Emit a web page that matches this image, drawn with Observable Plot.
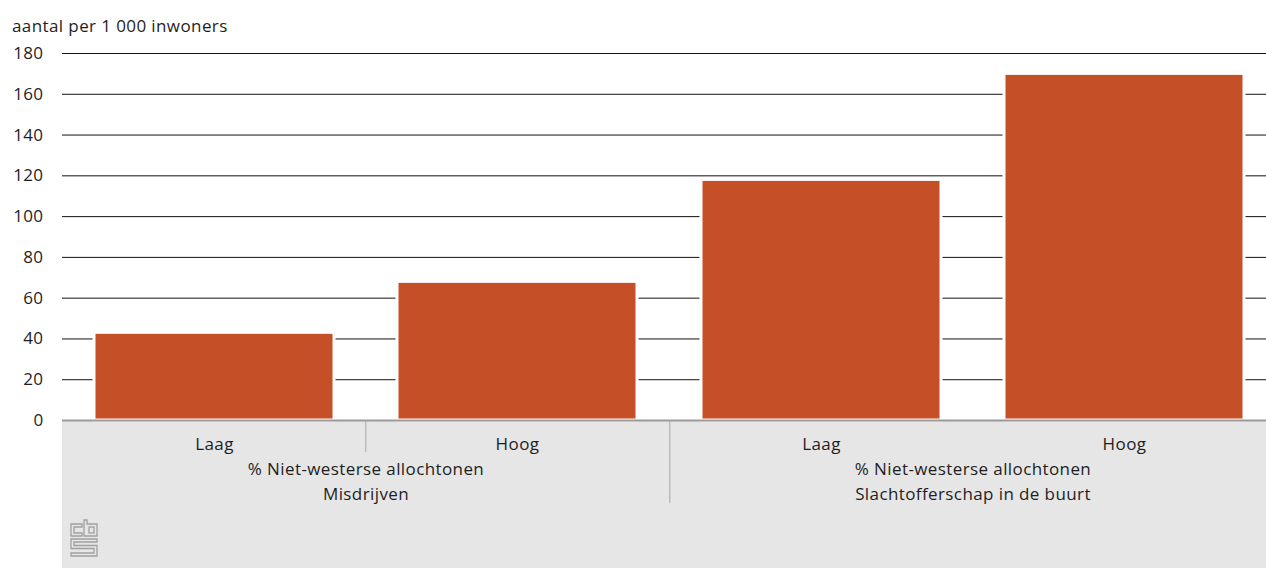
<!DOCTYPE html>
<html>
<head>
<meta charset="utf-8">
<script src="https://cdn.jsdelivr.net/npm/d3@7"></script>
<script src="https://cdn.jsdelivr.net/npm/@observablehq/plot@0.6"></script>
<style>
  html, body { margin: 0; padding: 0; background: #fff; }
  #wrap { position: relative; width: 1266px; height: 568px; overflow: hidden; font-family: "Open Sans", "Noto Sans", sans-serif; }
  #band { position: absolute; left: 62px; top: 421px; width: 1204px; height: 147px; background: #e6e6e6; }
  #ylabel { position: absolute; left: 12px; top: 14px; font-size: 17px; letter-spacing: 0.4px; color: #1e1e1e; line-height: 23px; }
  #logo { position: absolute; left: 70px; top: 519px; }
  #chart { position: absolute; left: 0; top: 0; }
  #chart svg { background: transparent !important; overflow: visible; letter-spacing: 0.4px; }
  #chart g[aria-label="category labels"] text { letter-spacing: 0.8px; }
</style>
</head>
<body>
<div id="wrap">
  <div id="band"></div>
  <div id="ylabel">aantal per 1 000 inwoners</div>
  <div id="chart"></div>
  <svg id="logo" width="28" height="38" viewBox="0 0 28 38" fill="none" stroke="#a0a0a0" stroke-width="1.3">
    <path d="M12 5 H1 V17 H12 V14 H4 V8 H12 Z"/>
    <path d="M14 1 H17 V5 H27 V17 H14 Z"/>
    <rect x="19" y="8" width="5" height="6"/>
    <path d="M1 20 H27 V23 H4 V26.5 H27 V37 H1 V34 H24 V29.5 H1 Z"/>
  </svg>
</div>
<script>
const groups = ["Misdrijven", "Slachtofferschap in de buurt"];
const levels = ["Laag", "Hoog"];
const groupValues = {
  "Misdrijven": [43, 68],
  "Slachtofferschap in de buurt": [118, 170]
};
const groupTitle = "% Niet-westerse allochtonen";
const yTicks = [0, 20, 40, 60, 80, 100, 120, 140, 160, 180];

const data = groups.flatMap(g => levels.map((l, i) => ({group: g, level: l, value: groupValues[g][i]})));
const separators = [
  {group: groups[0], level: levels[1], depth: -15.6},
  {group: groups[1], level: levels[0], depth: -40.6}
];

const W = 1266, ML = 62, MR = -10;
const step = (W - MR - ML) / 4;
const fontFamily = '"Open Sans", "Noto Sans", sans-serif';
const ink = "#1e1e1e";

const chart = Plot.plot({
  width: W,
  height: 568,
  marginLeft: ML,
  marginRight: MR,
  marginTop: 53,
  marginBottom: 148,
  style: {fontFamily, fontSize: "17px", color: ink, background: "transparent", overflow: "visible"},
  fx: {domain: groups, padding: 0, axis: null},
  x: {domain: levels, paddingInner: 0.209, paddingOuter: 0.1045, axis: null},
  y: {domain: [0, 180], axis: null},
  marks: [
    Plot.ruleY(yTicks.filter(d => d > 0), {stroke: "#111", strokeWidth: 1}),
    Plot.barY(data, {fx: "group", x: "level", y: "value", fill: "#c55028", stroke: "#fff", strokeWidth: 3}),
    Plot.ruleY([0], {stroke: "#9a9a9a", strokeWidth: 2}),
    Plot.ruleX(separators, {fx: "group", x: "level", y1: 0, y2: "depth", dx: -step / 2, stroke: "#a8a8a8", strokeWidth: 1}),
    Plot.text(data, {fx: "group", x: "level", text: "level", frameAnchor: "bottom", dy: 29, fill: ink, fontSize: 17, ariaLabel: "category labels"}),
    Plot.text(groups, {fx: d => d, text: () => groupTitle, frameAnchor: "bottom", dy: 54, fill: ink, fontSize: 17, ariaLabel: "category labels"}),
    Plot.text(groups, {fx: d => d, text: d => d, frameAnchor: "bottom", dy: 79, fill: ink, fontSize: 17, ariaLabel: "category labels"}),
    Plot.axisY(yTicks, {tickSize: 0, tickPadding: 19, fontSize: 17, fill: ink, dy: 0, label: null})
  ]
});
document.getElementById("chart").appendChild(chart);
</script>
</body>
</html>
